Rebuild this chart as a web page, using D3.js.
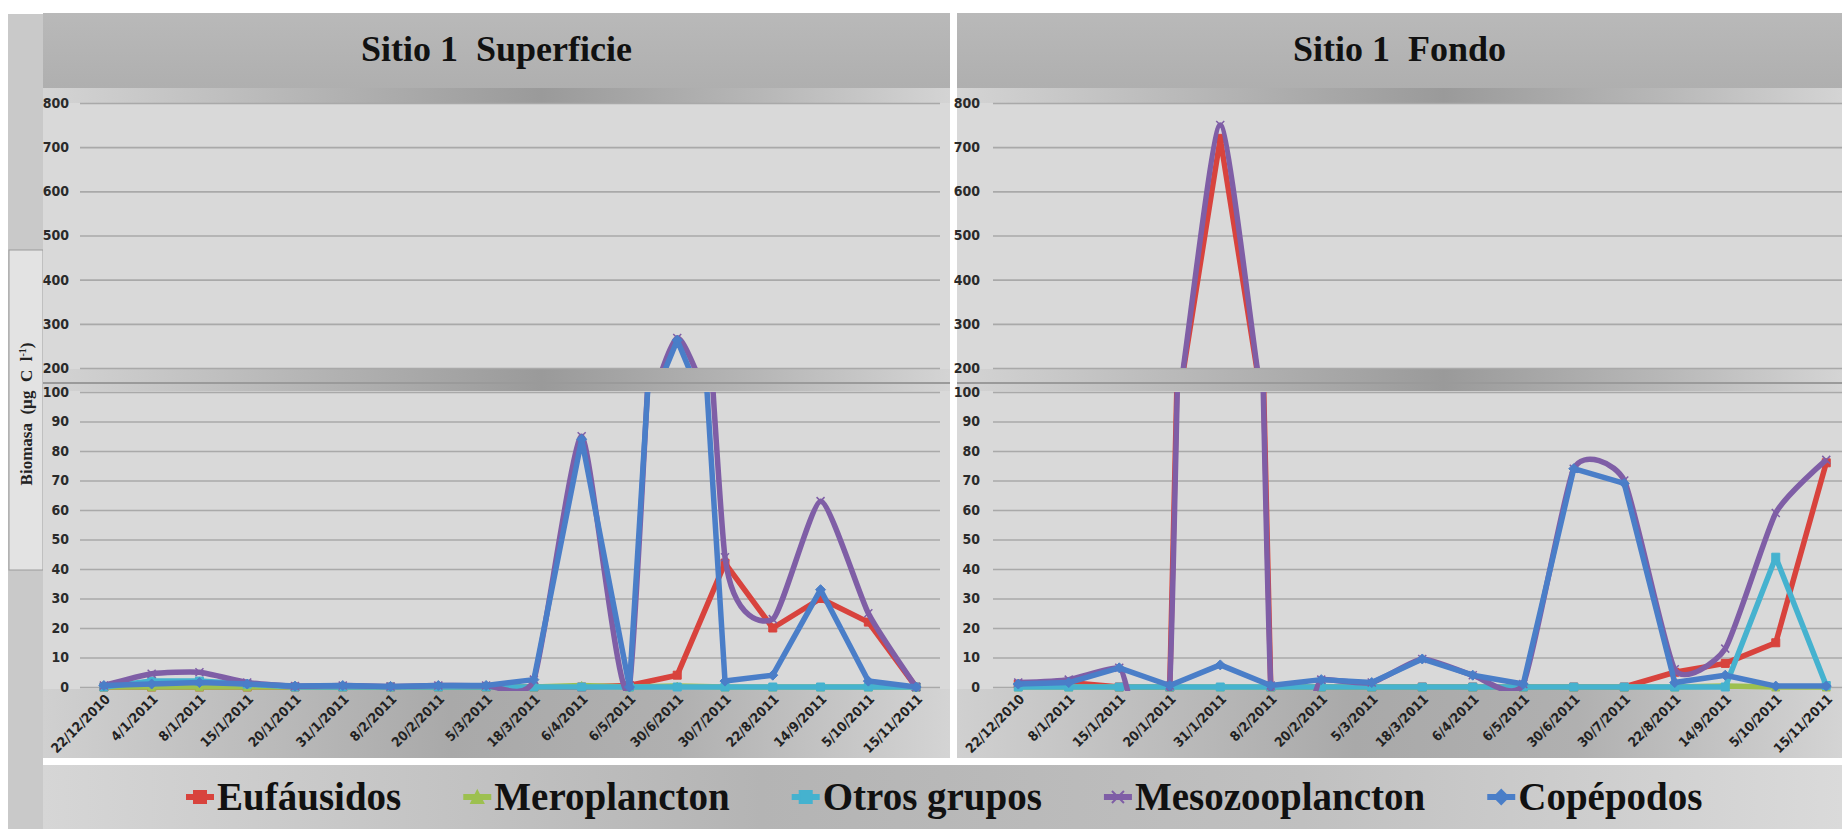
<!DOCTYPE html>
<meta charset="utf-8">
<style>
body { margin: 0; background: #fff; }
.tick text { font-family: "Liberation Sans Narrow", "DejaVu Sans Condensed", sans-serif; font-weight: bold; font-size: 14px; fill: #2a2a2a; }
.date { font-family: "Liberation Sans Narrow", "DejaVu Sans Condensed", sans-serif; font-weight: bold; font-size: 13.5px; fill: #222; }
.title { font-family: "Liberation Serif", serif; font-weight: bold; font-size: 36px; fill: #111; white-space: pre; }
.legend { font-family: "Liberation Serif", serif; font-weight: bold; font-size: 39px; fill: #111; }
.ylabel { font-family: "Liberation Serif", serif; font-weight: bold; font-size: 17px; fill: #222; white-space: pre; }
</style>
<svg width="1842" height="832"></svg>
<script src="https://d3js.org/d3.v7.min.js"></script>
<script>

// series names and colours (legend order = drawing order)
var seriesNames = ["Eufáusidos", "Meroplancton", "Otros grupos", "Mesozooplancton", "Copépodos"];
var seriesColours = ["#d8433d", "#9dc050", "#45b2cf", "#7f5ea6", "#4a7ec8"];
var seriesMarkers = ["square", "triangle", "square", "cross", "diamond"];
var seriesSmooth = [false, false, false, true, false];

// Sitio 1 Superficie
var datesSup = ["22/12/2010","4/1/2011","8/1/2011","15/1/2011","20/1/2011","31/1/2011","8/2/2011","20/2/2011","5/3/2011","18/3/2011","6/4/2011","6/5/2011","30/6/2011","30/7/2011","22/8/2011","14/9/2011","5/10/2011","15/11/2011"];
var eufSup   = [0, 0, 0, 0, 0, 0, 0, 0, 0, 0, 0, 0.5, 4, 42, 20, 30, 22, 0];
var meroSup  = [0, 0, 0, 0, 0, 0, 0, 0, 0, 0, 0.5, 0, 0.3, 0, 0, 0, 0, 0];
var otrosSup = [0, 2, 2, 1, 0, 0, 0, 0, 0, 0, 0, 0, 0, 0, 0, 0, 0, 0];
var mesoSup  = [0.5, 4.5, 5, 1.5, 0.3, 0.5, 0.2, 0.5, 0.5, 2.5, 85, 0.5, 268, 44, 23, 63, 25, 0];
var copeSup  = [0.5, 1, 1.5, 1, 0.3, 0.5, 0.2, 0.5, 0.5, 2.5, 84, 0, 263, 2, 4, 33, 2, 0];

// Sitio 1 Fondo
var datesFon = ["22/12/2010","8/1/2011","15/1/2011","20/1/2011","31/1/2011","8/2/2011","20/2/2011","5/3/2011","18/3/2011","6/4/2011","6/5/2011","30/6/2011","30/7/2011","22/8/2011","14/9/2011","5/10/2011","15/11/2011"];
var eufFon   = [1, 1.5, 0, 0, 720, 0, 0, 0, 0, 0, 0, 0, 0, 5, 8, 15, 76];
var meroFon  = [0, 0, 0, 0, 0, 0, 0, 0, 0, 0, 0, 0, 0, 0, 0.3, 0, 0];
var otrosFon = [0, 0, 0, 0, 0, 0, 0, 0, 0, 0, 0, 0, 0, 0, 0, 44, 0.5];
var mesoFon  = [1.5, 2.5, 6.5, 0.5, 750, 0.5, 2.5, 1.5, 9.5, 4, 1, 74, 70, 6, 13, 59, 77];
var copeFon  = [1, 1.5, 6.5, 0.5, 7.5, 0.5, 2.5, 1.5, 9.5, 4, 1, 74, 69, 1.5, 4, 0.3, 0.3];

// broken value axis: lower part 0-100, upper part 200-800
var lowerTicks = [0, 10, 20, 30, 40, 50, 60, 70, 80, 90, 100];
var upperTicks = [200, 300, 400, 500, 600, 700, 800];

var svg = d3.select("svg");
var defs = svg.append("defs");

function hGrad(id, stops) {
  var g = defs.append("linearGradient").attr("id", id);
  stops.forEach(function(s){
    g.append("stop").attr("offset", s[0]).attr("stop-color", s[1]);
  });
}
hGrad("shadow", [[0, "#d4d4d4"], [0.3, "#b4b4b4"], [0.55, "#9a9a9a"], [0.8, "#b8b8b8"], [1, "#d4d4d4"]]);
hGrad("axisband", [[0, "#d0d0d0"], [0.45, "#a9a9a9"], [0.7, "#b0b0b0"], [1, "#d4d4d4"]]);
hGrad("legendband", [[0, "#d6d6d6"], [0.4, "#b4b4b4"], [0.7, "#c0c0c0"], [1, "#dadada"]]);
var tg = defs.append("linearGradient").attr("id", "titleband").attr("x2", 0).attr("y2", 1);
tg.append("stop").attr("offset", 0).attr("stop-color", "#b9b9b9");
tg.append("stop").attr("offset", 1).attr("stop-color", "#afafaf");

var yLow = d3.scaleLinear().domain([0, 100]).range([687, 392]);
var yHigh = d3.scaleLinear().domain([200, 800]).range([368, 103]);

// left strip with the value axis title
svg.append("rect").attr("x", 8).attr("y", 14).attr("width", 35).attr("height", 815).attr("fill", "#c9c9c9");
svg.append("rect").attr("x", 9).attr("y", 250).attr("width", 34).attr("height", 320)
  .attr("fill", "#e3e3e3").attr("stroke", "#9c9c9c").attr("stroke-width", 1);
var yl = svg.append("text").attr("class", "ylabel")
  .attr("transform", "translate(32,414) rotate(-90)")
  .attr("text-anchor", "middle");
yl.append("tspan").text("Biomasa  (µg  C  l");
yl.append("tspan").attr("font-size", "10px").attr("dy", -6).text("-1");
yl.append("tspan").attr("dy", 6).text(")");

// legend band
svg.append("rect").attr("x", 43).attr("y", 765).attr("width", 1799).attr("height", 64).attr("fill", "url(#legendband)");

function markerPath(type, size) {
  var s = size / 2;
  if (type == "square") return "M" + (-s) + "," + (-s) + "h" + size + "v" + size + "h" + (-size) + "Z";
  if (type == "diamond") return "M0," + (-s - 1) + "L" + (s + 1) + ",0L0," + (s + 1) + "L" + (-s - 1) + ",0Z";
  if (type == "triangle") return "M0," + (-s) + "L" + s + "," + s + "L" + (-s) + "," + s + "Z";
  return "M" + (-s) + "," + (-s) + "L" + s + "," + s + "M" + s + "," + (-s) + "L" + (-s) + "," + s;
}

function drawPanel(p) {
  var g = svg.append("g");
  var x = d3.scalePoint().domain(p.dates).range([p.plotLeft, p.plotRight]).padding(0.5);
  var w = p.x1 - p.x0;
  var clipW = Math.min(p.plotRight, 1842) - p.plotLeft;

  g.append("rect").attr("x", p.x0).attr("y", 13).attr("width", w).attr("height", 745).attr("fill", "#d9d9d9");
  g.append("rect").attr("x", p.x0).attr("y", 13).attr("width", w).attr("height", 75).attr("fill", "url(#titleband)");
  g.append("rect").attr("x", p.x0).attr("y", 88).attr("width", w).attr("height", 15).attr("fill", "url(#shadow)");
  g.append("rect").attr("x", p.x0).attr("y", 369).attr("width", w).attr("height", 22).attr("fill", "url(#shadow)");
  g.append("line").attr("x1", p.x0).attr("x2", p.x1).attr("y1", 383).attr("y2", 383).attr("stroke", "#9a9a9a").attr("stroke-width", 2);
  g.append("rect").attr("x", p.x0).attr("y", 689).attr("width", w).attr("height", 69).attr("fill", "url(#axisband)");

  g.append("text").attr("class", "title")
    .attr("x", (p.x0 + p.x1) / 2).attr("y", 61)
    .attr("text-anchor", "middle")
    .text(p.title);

  // gridlines + tick labels for both halves
  [[yLow, lowerTicks], [yHigh, upperTicks]].forEach(function(a){
    var ax = g.append("g")
      .attr("transform", "translate(" + p.plotLeft + ",0)")
      .call(d3.axisLeft(a[0]).tickValues(a[1]).tickSize(-clipW).tickPadding(p.pad).tickFormat(d3.format("d")));
    ax.select(".domain").remove();
    ax.selectAll(".tick line").attr("stroke", "#a9a9a9").attr("stroke-width", 1.6);
  });

  // category labels
  g.selectAll(".date").data(p.dates).enter().append("text")
    .attr("class", "date")
    .attr("text-anchor", "end")
    .attr("transform", function(d){ return "translate(" + (x(d) + 7) + ",700) rotate(-45)"; })
    .text(function(d){ return d; });

  // clip regions for the two halves
  var idLow = "clipLow" + p.id, idHigh = "clipHigh" + p.id;
  defs.append("clipPath").attr("id", idLow).append("rect")
    .attr("x", p.plotLeft - 10).attr("y", yLow(100)).attr("width", clipW + 20).attr("height", yLow(0) - yLow(100) + 4);
  defs.append("clipPath").attr("id", idHigh).append("rect")
    .attr("x", p.plotLeft - 10).attr("y", yHigh(800)).attr("width", clipW + 20).attr("height", yHigh(200) - yHigh(800));

  p.series.forEach(function(vals, i){
    var pts = vals.map(function(v, j){ return {d: p.dates[j], v: v}; });
    [[yLow, idLow, 0, 100], [yHigh, idHigh, 200, 800]].forEach(function(h){
      var line = d3.line()
        .x(function(d){ return x(d.d); })
        .y(function(d){ return h[0](d.v); })
        .curve(seriesSmooth[i] ? d3.curveCardinal.tension(0.45) : d3.curveLinear);
      g.append("path")
        .datum(pts)
        .attr("clip-path", "url(#" + h[1] + ")")
        .attr("fill", "none")
        .attr("stroke", seriesColours[i])
        .attr("stroke-width", 5.5)
        .attr("stroke-linejoin", "round")
        .attr("d", line);
      g.selectAll(null)
        .data(pts.filter(function(d){ return d.v >= h[2] && d.v <= h[3]; }))
        .enter().append("path")
        .attr("transform", function(d){ return "translate(" + x(d.d) + "," + h[0](d.v) + ")"; })
        .attr("d", markerPath(seriesMarkers[i], 8))
        .attr("fill", seriesMarkers[i] == "cross" ? "none" : seriesColours[i])
        .attr("stroke", seriesColours[i])
        .attr("stroke-width", seriesMarkers[i] == "cross" ? 1.5 : 1);
    });
  });
}

drawPanel({
  id: "Sup", title: "Sitio 1  Superficie", x0: 43, x1: 950, plotLeft: 80, plotRight: 940, pad: 11,
  dates: datesSup, series: [eufSup, meroSup, otrosSup, mesoSup, copeSup]
});
drawPanel({
  id: "Fon", title: "Sitio 1  Fondo", x0: 957, x1: 1842, plotLeft: 993, plotRight: 1851.5, pad: 13,
  dates: datesFon, series: [eufFon, meroFon, otrosFon, mesoFon, copeFon]
});

// legend
var lx = 186;
seriesNames.forEach(function(name, i){
  var lg = svg.append("g").attr("transform", "translate(" + lx + ",797)");
  lg.append("line").attr("x1", 0).attr("x2", 28).attr("stroke", seriesColours[i]).attr("stroke-width", 6);
  lg.append("path").attr("transform", "translate(14,0)")
    .attr("d", markerPath(seriesMarkers[i], 12))
    .attr("fill", seriesMarkers[i] == "cross" ? "none" : seriesColours[i])
    .attr("stroke", seriesColours[i]).attr("stroke-width", 2);
  var t = lg.append("text").attr("class", "legend").attr("x", 31).attr("y", 13).text(name);
  lx += 31 + t.node().getComputedTextLength() + 62;
});

</script>
